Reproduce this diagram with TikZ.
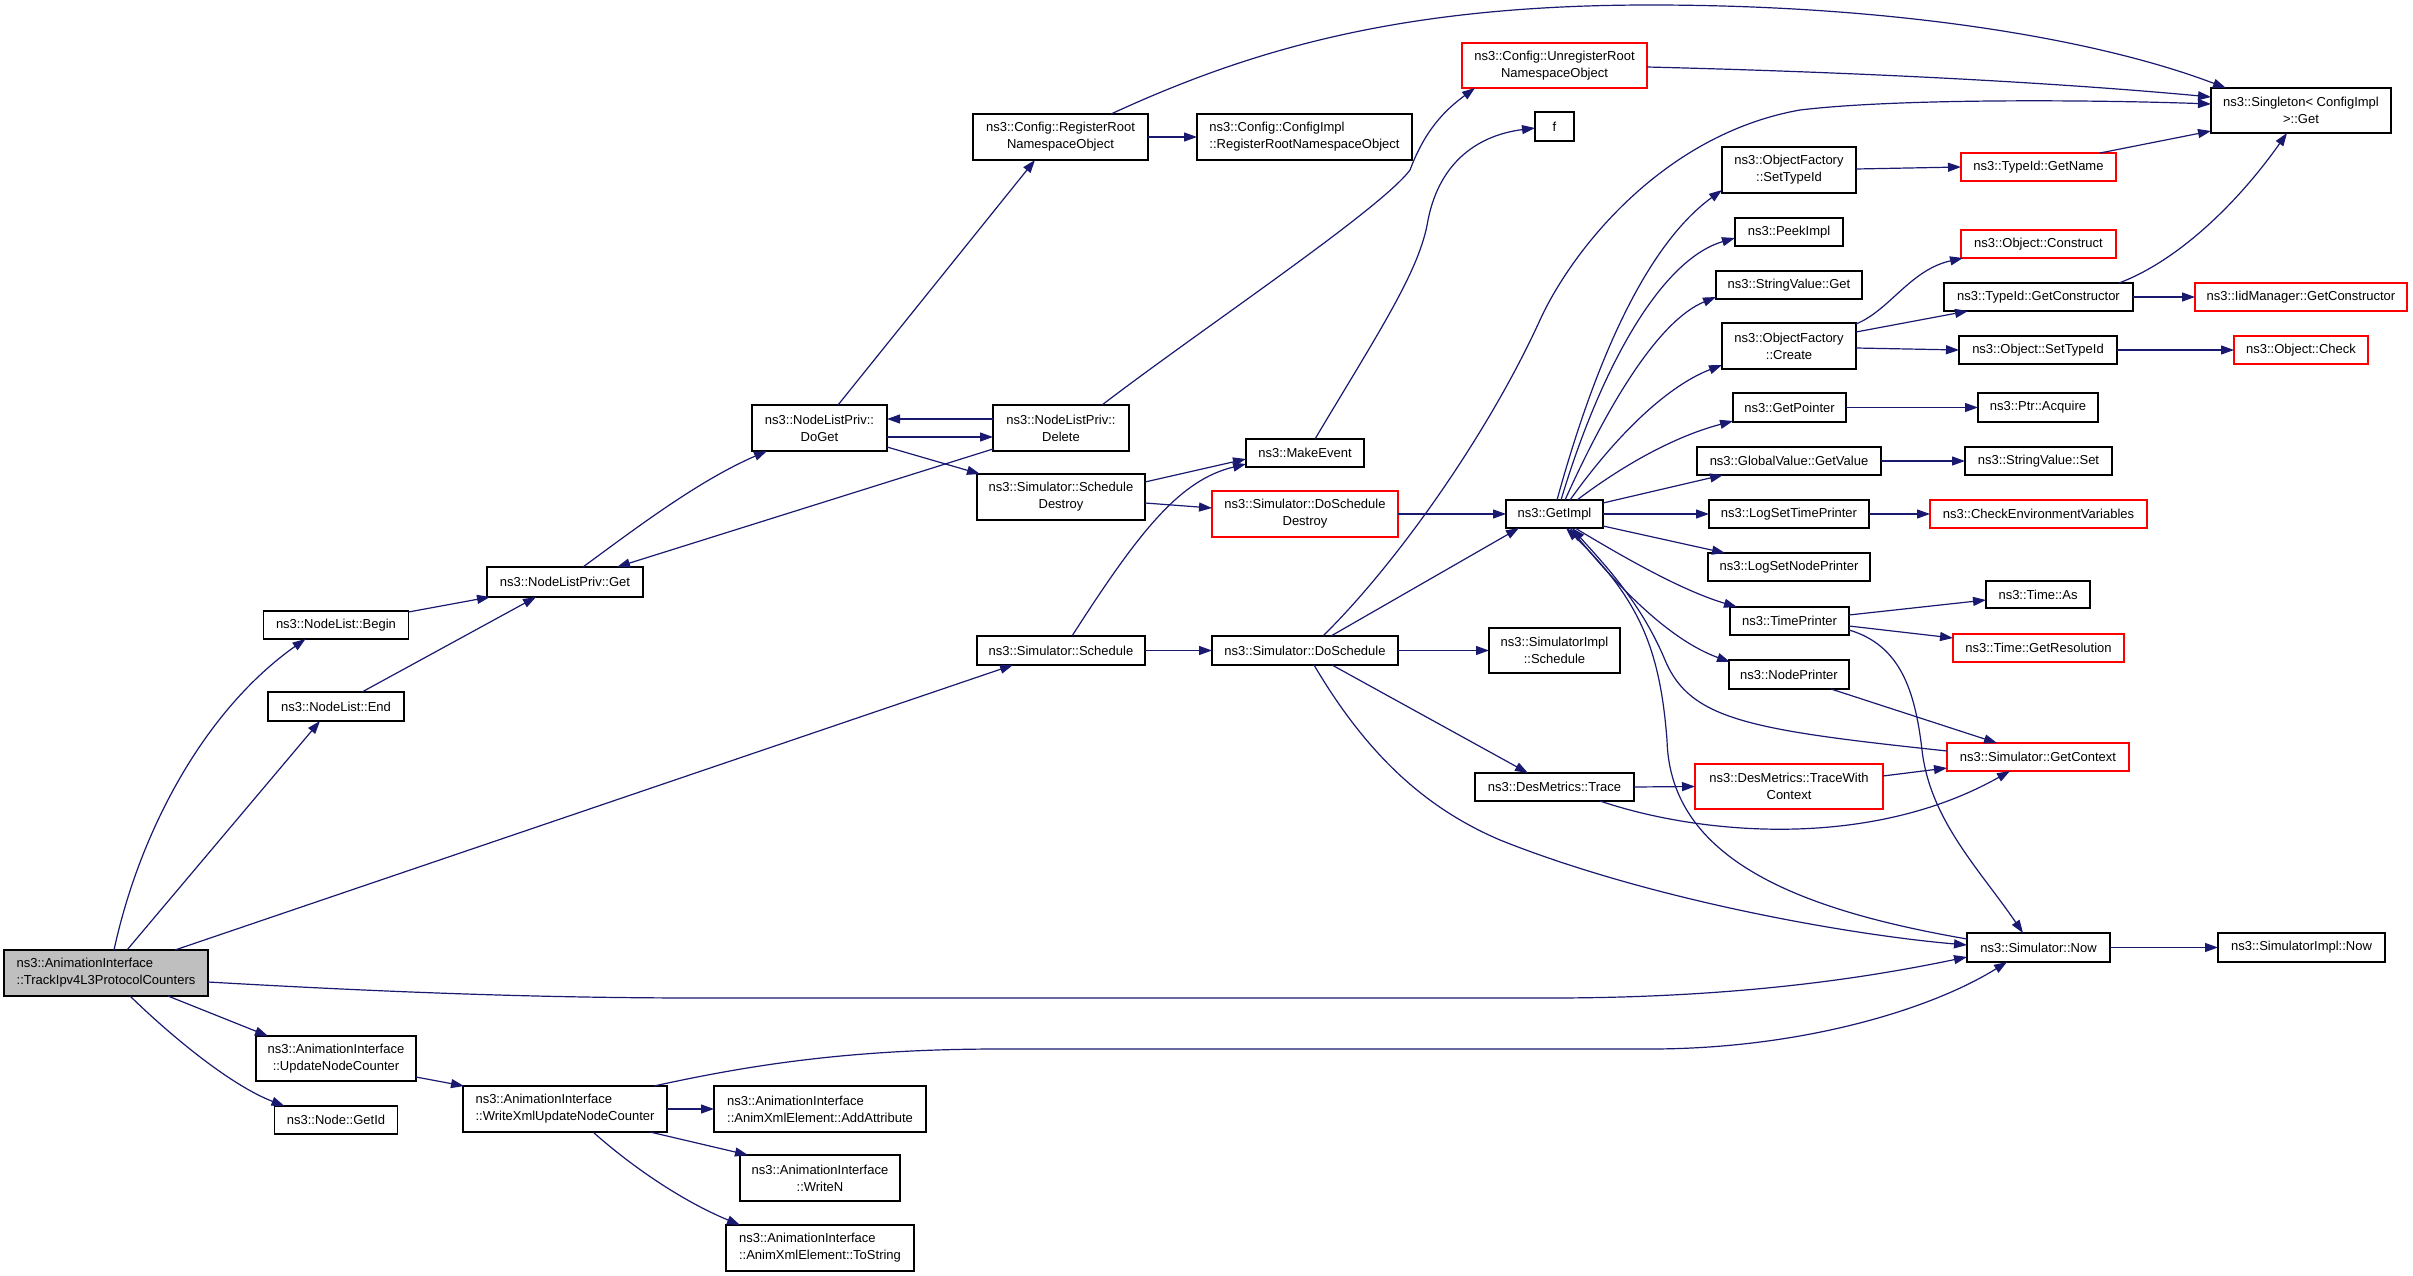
\documentclass[tikz,border=0pt]{standalone}
\usepackage{fontspec}
\setmainfont{Liberation Sans}
\usetikzlibrary{arrows.meta}
\definecolor{edgec}{HTML}{191970}
\definecolor{mgrey}{HTML}{BFBFBF}
\definecolor{redb}{HTML}{FF0000}
\tikzset{
  box/.style={draw=black, line width=1.3pt, fill=white, inner sep=0pt, outer sep=0pt,
              font=\fontsize{13}{17}\selectfont, align=center},
  lbox/.style={box, align=left},
  rbox/.style={box, draw=redb},
  mainbox/.style={box, fill=mgrey, align=left},
  edge/.style={draw=edgec, line width=1.2pt, -{Triangle[length=13pt,width=9pt]}},
}
\newcommand\bx[7]{\node[#2, minimum width=#5pt, minimum height=#6pt] (#1) at (#3,#4) {#7};}
\newcommand\off[3]{([shift={(#2,#3)}]#1.center)}
\begin{document}
\begin{tikzpicture}[x=1pt,y=-1pt]
\fill[white] (0,0) rectangle (2413,1276);
\useasboundingbox (0,0) rectangle (2413,1276);

% ---- nodes ----
\bx{main}{mainbox}{106}{973}{204}{46}{ns3::AnimationInterface\\::TrackIpv4L3ProtocolCounters}
\bx{begin}{box}{336}{625}{145}{28}{ns3::NodeList::Begin}
\bx{endn}{box}{336}{706.5}{136}{29}{ns3::NodeList::End}
\bx{upd}{box}{336}{1058.5}{160}{45}{ns3::AnimationInterface\\::UpdateNodeCounter}
\bx{getid}{box}{336}{1120}{123}{28}{ns3::Node::GetId}
\bx{get}{box}{565}{582}{156}{30}{ns3::NodeListPriv::Get}
\bx{wxml}{lbox}{565}{1109}{204}{46}{ns3::AnimationInterface\\::WriteXmlUpdateNodeCounter}
\bx{doget}{box}{819.5}{428}{135}{46}{ns3::NodeListPriv::\\DoGet}
\bx{addattr}{lbox}{820}{1109}{212}{46}{ns3::AnimationInterface\\::AnimXmlElement::AddAttribute}
\bx{writen}{box}{820}{1178}{160}{46}{ns3::AnimationInterface\\::WriteN}
\bx{tostr}{lbox}{820}{1248}{188}{46}{ns3::AnimationInterface\\::AnimXmlElement::ToString}
\bx{reg}{box}{1060.5}{137}{175}{46}{ns3::Config::RegisterRoot\\NamespaceObject}
\bx{del}{box}{1061}{428}{136}{46}{ns3::NodeListPriv::\\Delete}
\bx{schdes}{box}{1061}{497}{168}{46}{ns3::Simulator::Schedule\\Destroy}
\bx{sched}{box}{1061}{650.5}{168}{29}{ns3::Simulator::Schedule}
\bx{cireg}{lbox}{1304.5}{137}{215}{46}{ns3::Config::ConfigImpl\\::RegisterRootNamespaceObject}
\bx{mkev}{box}{1305}{453}{118}{28}{ns3::MakeEvent}
\bx{doschdes}{rbox}{1305}{514}{186}{46}{ns3::Simulator::DoSchedule\\Destroy}
\bx{dosched}{box}{1305}{650.5}{186}{29}{ns3::Simulator::DoSchedule}
\bx{unreg}{rbox}{1554.5}{65.5}{185}{45}{ns3::Config::UnregisterRoot\\NamespaceObject}
\bx{f}{box}{1554.5}{126.5}{39}{29}{f}
\bx{getimpl}{box}{1554.5}{514}{97}{28}{ns3::GetImpl}
\bx{simschd}{box}{1554.5}{650.5}{131}{45}{ns3::SimulatorImpl\\::Schedule}
\bx{trace}{box}{1554.5}{787}{159}{28}{ns3::DesMetrics::Trace}
\bx{ofset}{box}{1789}{170}{134}{46}{ns3::ObjectFactory\\::SetTypeId}
\bx{peek}{box}{1789}{232}{108}{28}{ns3::PeekImpl}
\bx{svget}{box}{1789}{285}{146}{28}{ns3::StringValue::Get}
\bx{ofcreate}{box}{1789}{346}{134}{46}{ns3::ObjectFactory\\::Create}
\bx{getptr}{box}{1789.5}{407.5}{113}{29}{ns3::GetPointer}
\bx{gvget}{box}{1789}{461}{184}{28}{ns3::GlobalValue::GetValue}
\bx{lstp}{box}{1789}{514}{160}{28}{ns3::LogSetTimePrinter}
\bx{lsnp}{box}{1789}{567}{162}{28}{ns3::LogSetNodePrinter}
\bx{tp}{box}{1789.5}{621}{119}{28}{ns3::TimePrinter}
\bx{np}{box}{1789}{674.5}{120}{29}{ns3::NodePrinter}
\bx{twc}{rbox}{1789}{786.5}{188}{45}{ns3::DesMetrics::TraceWith\\Context}
\bx{getname}{rbox}{2038.5}{167}{155}{28}{ns3::TypeId::GetName}
\bx{construct}{rbox}{2038.5}{244}{155}{28}{ns3::Object::Construct}
\bx{getctor}{box}{2038.5}{297}{189}{28}{ns3::TypeId::GetConstructor}
\bx{osettid}{box}{2038}{350}{158}{28}{ns3::Object::SetTypeId}
\bx{acquire}{box}{2038}{407.5}{120}{29}{ns3::Ptr::Acquire}
\bx{svset}{box}{2038.5}{461}{147}{28}{ns3::StringValue::Set}
\bx{cev}{rbox}{2038.5}{514}{217}{28}{ns3::CheckEnvironmentVariables}
\bx{timeas}{box}{2038}{594.5}{104}{27}{ns3::Time::As}
\bx{getres}{rbox}{2038.5}{648}{171}{28}{ns3::Time::GetResolution}
\bx{getctx}{rbox}{2038}{757}{182}{28}{ns3::Simulator::GetContext}
\bx{now}{box}{2038.5}{947.5}{143}{29}{ns3::Simulator::Now}
\bx{singleton}{box}{2301}{110.5}{180}{45}{ns3::Singleton< ConfigImpl\\>::Get}
\bx{iid}{rbox}{2301}{297}{212}{28}{ns3::IidManager::GetConstructor}
\bx{ocheck}{rbox}{2301}{350}{134}{28}{ns3::Object::Check}
\bx{simnow}{box}{2301.5}{947.5}{167}{29}{ns3::SimulatorImpl::Now}

% ---- edges ----
\draw[edge] \off{main}{8}{-23} .. controls (140,830) and (205,710) .. \off{begin}{-30.5}{14};
\draw[edge] \off{main}{21}{-23} -- \off{endn}{-16}{14.5};
\draw[edge] \off{main}{69}{-23} -- \off{sched}{-48}{14.5};
\draw[edge] \off{main}{102}{9} .. controls (400,993) and (550,998) .. (700,998) -- (1550,998)
   .. controls (1750,998) and (1880,975) .. \off{now}{-71.5}{9.5};
\draw[edge] \off{main}{62}{23} -- \off{upd}{-68}{-22.5};
\draw[edge] \off{main}{24}{23} .. controls (170,1035) and (230,1085) .. \off{getid}{-51.5}{-14};
\draw[edge] \off{begin}{72.5}{-13} -- \off{get}{-75}{15};
\draw[edge] \off{endn}{26}{-14.5} -- \off{get}{-29}{15};
\draw[edge] \off{get}{18}{-15} .. controls (640,525) and (700,480) .. \off{doget}{-52.5}{23};
\draw[edge] \off{del}{-68}{21} -- \off{get}{52}{-15};
\draw[edge] \off{doget}{67.5}{9} -- \off{del}{-68}{9};
\draw[edge] \off{del}{-68}{-9} -- \off{doget}{67.5}{-9};
\draw[edge] \off{doget}{18.5}{-23} -- \off{reg}{-25.5}{23};
\draw[edge] \off{doget}{67.5}{19} -- \off{schdes}{-81}{-23};
\draw[edge] \off{del}{41}{-23} .. controls (1200,330) and (1380,210) .. (1410,170)
   .. controls (1425,130) and (1445,110) .. \off{unreg}{-79.5}{22.5};
\draw[edge] (reg.east) -- (cireg.west);
\draw[edge] \off{reg}{50.5}{-23} .. controls (1250,50) and (1400,5) .. (1650,5)
   .. controls (1900,5) and (2100,40) .. \off{singleton}{-75}{-22.5};
\draw[edge] \off{unreg}{92.5}{1.5} .. controls (1850,72) and (2050,82) .. \off{singleton}{-90}{-13.5};
\draw[edge] \off{schdes}{84}{-15} -- \off{mkev}{-59}{6};
\draw[edge] \off{schdes}{84}{6} -- \off{doschdes}{-93}{-6};
\draw[edge] \off{sched}{11}{-14.5} .. controls (1140,530) and (1180,480) .. \off{mkev}{-59}{11};
\draw[edge] \off{mkev}{10}{-14} .. controls (1380,330) and (1420,270) .. (1428,220)
   .. controls (1440,160) and (1480,135) .. \off{f}{-19.5}{1.5};
\draw[edge] (sched.east) -- (dosched.west);
\draw[edge] (doschdes.east) -- (getimpl.west);
\draw[edge] \off{dosched}{26}{-14.5} -- \off{getimpl}{-35.5}{14};
\draw[edge] \off{dosched}{18}{-14.5} .. controls (1400,560) and (1490,430) .. (1540,320)
   .. controls (1570,254) and (1660,135) .. (1800,110)
   .. controls (1900,98) and (2100,100) .. \off{singleton}{-90}{-6.5};
\draw[edge] (dosched.east) -- (simschd.west);
\draw[edge] \off{dosched}{27}{14.5} -- \off{trace}{-26.5}{-14};
\draw[edge] \off{dosched}{9}{14.5} .. controls (1370,760) and (1430,810) .. (1500,840)
   .. controls (1650,900) and (1850,935) .. \off{now}{-71.5}{-2.5};
\draw[edge] (trace.east) -- (twc.west);
\draw[edge] \off{trace}{45.5}{14} .. controls (1700,835) and (1870,850) .. \off{getctx}{-28}{14};
\draw[edge] \off{twc}{94}{-10.5} -- \off{getctx}{-91}{11};
\draw[edge] \off{getctx}{-91}{-6} .. controls (1750,730) and (1690,720) .. (1665,660)
   .. controls (1640,600) and (1600,560) .. \off{getimpl}{17.5}{14};
\draw[edge] \off{now}{-71.5}{-8.5} .. controls (1800,910) and (1670,860) .. (1667,740)
   .. controls (1660,650) and (1640,600) .. \off{getimpl}{11.5}{14};
\draw[edge] \off{tp}{59.5}{9} .. controls (1900,645) and (1915,690) .. (1922,750)
   .. controls (1930,820) and (1980,870) .. \off{now}{-15.5}{-14.5};
\draw[edge] \off{tp}{59.5}{-6} -- \off{timeas}{-52}{5.5};
\draw[edge] \off{tp}{59.5}{5} -- \off{getres}{-85.5}{-10};
\draw[edge] \off{np}{42}{14.5} -- \off{getctx}{-41}{-14};
\draw[edge] \off{wxml}{89}{-23} .. controls (750,1065) and (850,1049) .. (1000,1049) -- (1650,1049)
   .. controls (1800,1049) and (1930,1010) .. \off{now}{-31.5}{14.5};
\draw[edge] \off{upd}{80}{18.5} -- \off{wxml}{-101}{-23};
\draw[edge] (wxml.east) -- (addattr.west);
\draw[edge] \off{wxml}{85}{23} -- \off{writen}{-72}{-23};
\draw[edge] \off{wxml}{28}{23} .. controls (630,1165) and (680,1200) .. \off{tostr}{-80}{-23};
\draw[edge] \off{getimpl}{2.5}{-14} .. controls (1590,380) and (1640,250) .. \off{ofset}{-67}{20};
\draw[edge] \off{getimpl}{6.5}{-14} .. controls (1600,370) and (1660,260) .. \off{peek}{-54}{6};
\draw[edge] \off{getimpl}{10.5}{-14} .. controls (1610,400) and (1660,320) .. \off{svget}{-73}{12};
\draw[edge] \off{getimpl}{15.5}{-14} .. controls (1620,430) and (1670,385) .. \off{ofcreate}{-67}{19};
\draw[edge] \off{getimpl}{22.5}{-14} .. controls (1630,460) and (1680,435) .. \off{getptr}{-56.5}{13.5};
\draw[edge] \off{getimpl}{48.5}{-11} -- \off{gvget}{-66}{14};
\draw[edge] (getimpl.east) -- (lstp.west);
\draw[edge] \off{getimpl}{48.5}{12} -- \off{lsnp}{-64}{-14};
\draw[edge] \off{getimpl}{20.5}{14} .. controls (1620,555) and (1680,590) .. \off{tp}{-52.5}{-14};
\draw[edge] \off{getimpl}{15.5}{14} .. controls (1620,590) and (1670,640) .. \off{np}{-59}{-12.5};
\draw[edge] \off{ofset}{67}{-1} -- (getname.west);
\draw[edge] \off{getname}{61.5}{-14} -- \off{singleton}{-90}{20.5};
\draw[edge] \off{ofcreate}{67}{-22} .. controls (1890,310) and (1910,270) .. \off{construct}{-75.5}{14};
\draw[edge] \off{ofcreate}{67}{-14} -- \off{getctor}{-70.5}{14};
\draw[edge] \off{ofcreate}{67}{2} -- (osettid.west);
\draw[edge] (getctor.east) -- (iid.west);
\draw[edge] \off{getctor}{80.5}{-14} .. controls (2180,260) and (2240,200) .. \off{singleton}{-14}{22.5};
\draw[edge] (osettid.east) -- (ocheck.west);
\draw[edge] (getptr.east) -- (acquire.west);
\draw[edge] (gvget.east) -- (svset.west);
\draw[edge] (lstp.east) -- (cev.west);
\draw[edge] (now.east) -- (simnow.west);
\end{tikzpicture}
\end{document}
